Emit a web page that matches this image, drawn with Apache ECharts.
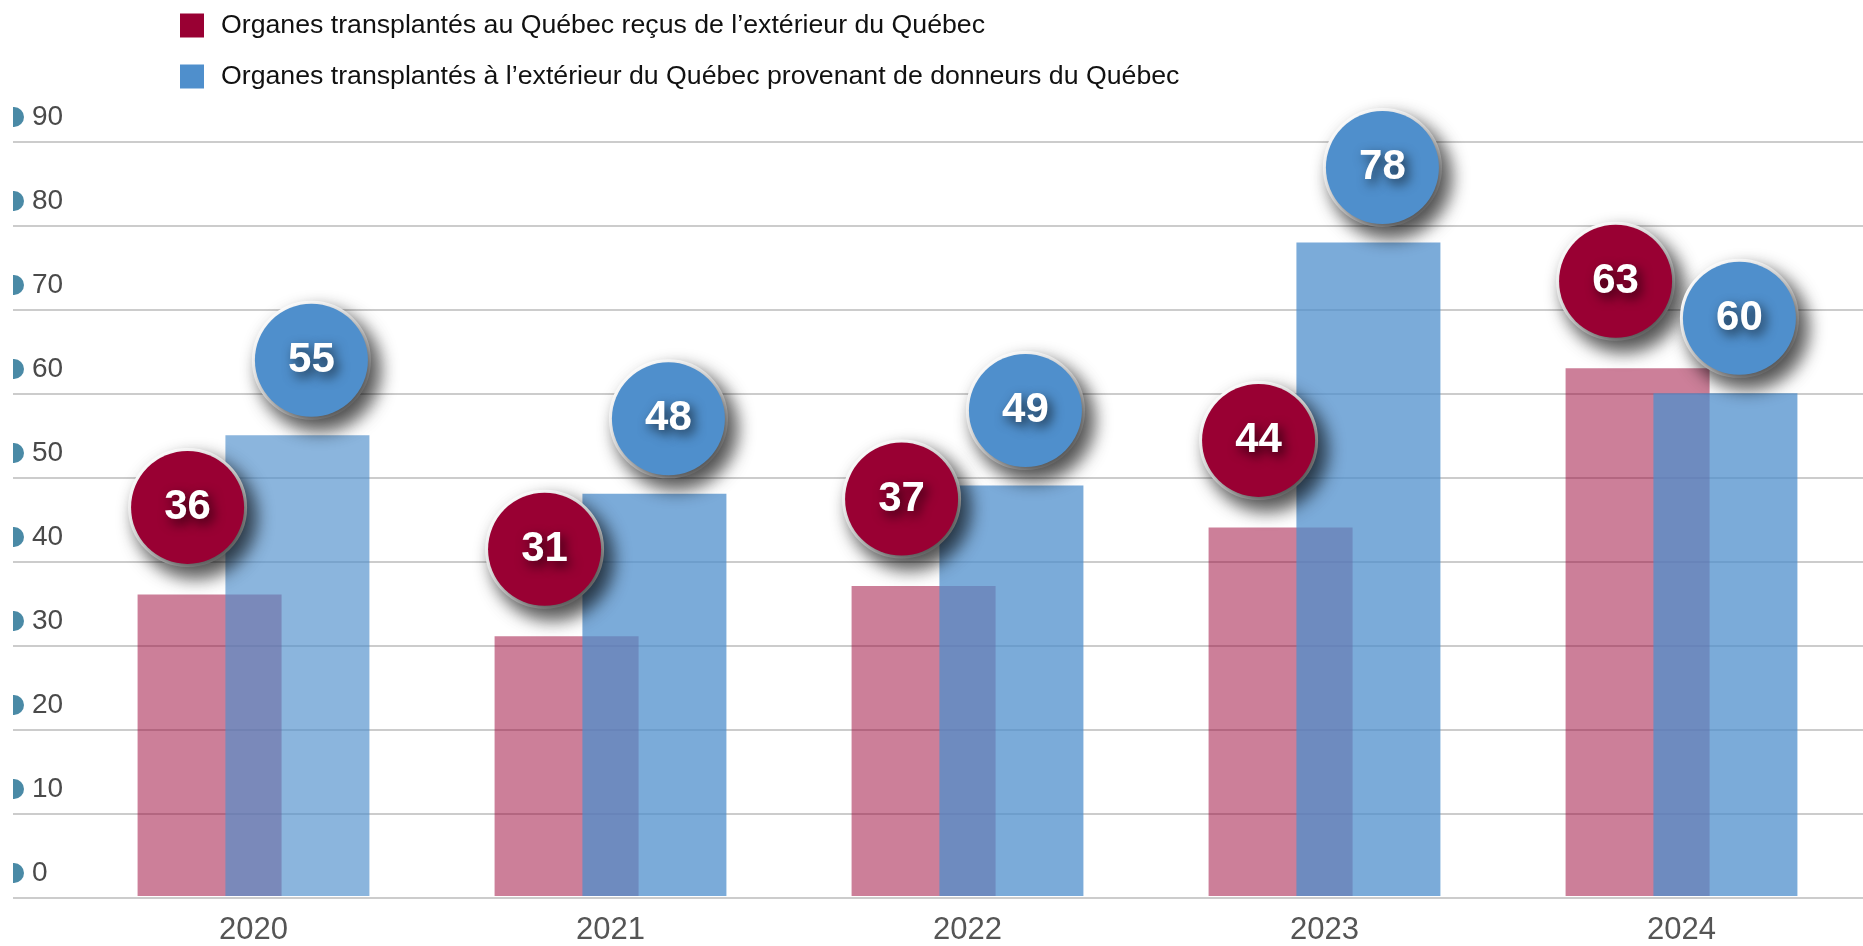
<!DOCTYPE html>
<html>
<head>
<meta charset="utf-8">
<script src="https://cdn.jsdelivr.net/npm/echarts@6/dist/echarts.min.js"></script>
<style>
html,body{margin:0;padding:0;background:#fff;}
#chart{width:1863px;height:946px;}
</style>
</head>
<body>
<div id="chart"></div>
<script>
var categories = ['2020', '2021', '2022', '2023', '2024'];
var seriesNames = [
  'Organes transplantés au Québec reçus de l’extérieur du Québec',
  'Organes transplantés à l’extérieur du Québec provenant de donneurs du Québec'
];
var recusValues = [36, 31, 37, 44, 63];
var envoyesValues = [55, 48, 49, 78, 60];
var yTicks = [0, 10, 20, 30, 40, 50, 60, 70, 80, 90];

var FONT = '"Liberation Sans", Arial, Helvetica, sans-serif';
var RED = '#990033', BLUE = '#4f8fcc';
// the first blue bar is drawn slightly lighter in the reference
var blueAlpha = [0.66, 0.75, 0.75, 0.75, 0.75];

function bubble(color, dx, dy) {
  return {
    show: true,
    position: 'top',
    distance: 0,
    offset: [dx, dy],
    formatter: '{c}',
    width: 113,
    height: 113,
    lineHeight: 113,
    align: 'center',
    verticalAlign: 'middle',
    backgroundColor: color,
    borderColor: '#ffffff',
    borderWidth: 3,
    borderRadius: 59,
    shadowColor: 'rgba(0,0,0,0.7)',
    shadowBlur: 18,
    shadowOffsetX: 8,
    shadowOffsetY: 10,
    color: '#ffffff',
    fontFamily: FONT,
    fontWeight: 'bold',
    fontSize: 42,
    textShadowColor: 'rgba(0,0,0,0.7)',
    textShadowBlur: 12,
    textShadowOffsetX: 4,
    textShadowOffsetY: 5
  };
}

var chart = echarts.init(document.getElementById('chart'), null, {renderer: 'canvas'});
chart.setOption({
  backgroundColor: '#ffffff',
  animation: false,
  legend: {
    orient: 'vertical',
    left: 180,
    top: 12,
    padding: 0,
    itemWidth: 24,
    itemHeight: 24,
    itemGap: 24,
    icon: 'rect',
    selectedMode: false,
    textStyle: {fontFamily: FONT, fontSize: 26.7, color: '#111111', padding: [0, 0, 0, 12]},
    data: [
      {name: seriesNames[0], itemStyle: {color: RED, opacity: 1}},
      {name: seriesNames[1], itemStyle: {color: BLUE, opacity: 1}}
    ]
  },
  grid: [
    {left: 75, right: 3, top: 142, bottom: 48},
    {left: 13, right: 0, top: 142, bottom: 48}
  ],
  xAxis: [
    {
      type: 'category', gridIndex: 0, data: categories,
      axisLine: {show: false}, axisTick: {show: false}, splitLine: {show: false},
      axisLabel: {fontFamily: FONT, fontSize: 31, color: '#555555', margin: 19}
    },
    {type: 'value', gridIndex: 1, min: 0, max: 1, show: false}
  ],
  yAxis: [
    {type: 'value', gridIndex: 0, min: 0, max: 90, interval: 10, show: false},
    {
      type: 'value', gridIndex: 1, min: 0, max: 90, interval: 10,
      axisLine: {show: false}, axisTick: {show: false},
      splitLine: {show: true, lineStyle: {color: '#bbbbbb', width: 1.5}},
      axisLabel: {
        inside: true, margin: 0,
        formatter: function (v) { return yTicks.indexOf(v) >= 0 ? '{m| }{t|' + v + '}' : ''; },
        padding: [0, 0, 50, 0],
        rich: {
          m: {width: 11, height: 20, backgroundColor: '#4a8aa6', borderRadius: [0, 11, 11, 0]},
          t: {fontFamily: FONT, fontSize: 28, color: '#4a4a4a', padding: [0, 0, 0, 8]}
        }
      }
    }
  ],
  series: [
    {
      name: seriesNames[0], type: 'bar', xAxisIndex: 0, yAxisIndex: 0,
      data: recusValues, barWidth: 144, barGap: '-39%',
      itemStyle: {color: 'rgba(153,0,51,0.5)'},
      label: bubble(RED, -22, -87)
    },
    {
      name: seriesNames[1], type: 'bar', xAxisIndex: 0, yAxisIndex: 0,
      data: envoyesValues.map(function (v, i) {
        return {value: v, itemStyle: {color: 'rgba(79,143,204,' + blueAlpha[i] + ')'}};
      }),
      barWidth: 144, barGap: '-39%',
      itemStyle: {color: 'rgba(79,143,204,0.75)'},
      label: bubble(BLUE, 14, -75)
    }
  ]
});
</script>
</body>
</html>
